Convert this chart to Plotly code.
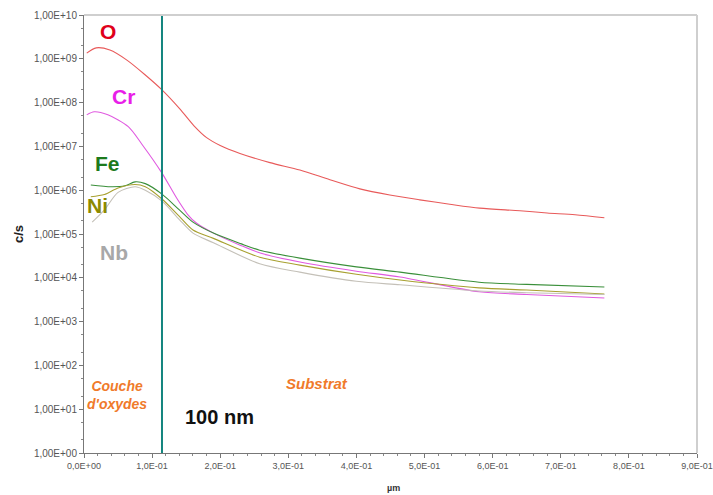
import plotly.graph_objects as go

# depth (µm) and log10(c/s)
o_x = [0.004, 0.018, 0.038, 0.063, 0.09, 0.1145, 0.141, 0.1615, 0.18, 0.20, 0.229, 0.273, 0.317, 0.361, 0.405, 0.449, 0.493, 0.537, 0.581, 0.640, 0.680, 0.721, 0.764]
o_y = [9.13, 9.25, 9.20, 8.97, 8.63, 8.29, 7.85, 7.47, 7.20, 7.02, 6.84, 6.63, 6.46, 6.24, 6.03, 5.89, 5.78, 5.68, 5.59, 5.53, 5.48, 5.44, 5.37]

cr_x = [0.004, 0.015, 0.035, 0.065, 0.085, 0.1145, 0.136, 0.152, 0.165, 0.19, 0.23, 0.26, 0.317, 0.40, 0.464, 0.58, 0.65, 0.764]
cr_y = [7.72, 7.79, 7.72, 7.45, 7.05, 6.39, 5.82, 5.45, 5.25, 5.02, 4.74, 4.56, 4.36, 4.15, 4.02, 3.68, 3.62, 3.54]

fe_x = [0.01, 0.04, 0.06, 0.075, 0.09, 0.1145, 0.14, 0.16, 0.19, 0.23, 0.258, 0.317, 0.40, 0.464, 0.58, 0.65, 0.764]
fe_y = [6.12, 6.08, 6.10, 6.19, 6.15, 5.91, 5.55, 5.27, 5.02, 4.78, 4.63, 4.45, 4.25, 4.13, 3.90, 3.85, 3.79]

ni_x = [0.01, 0.03, 0.05, 0.075, 0.09, 0.1145, 0.14, 0.16, 0.19, 0.258, 0.317, 0.40, 0.464, 0.58, 0.65, 0.764]
ni_y = [5.85, 5.90, 6.05, 6.13, 6.08, 5.80, 5.40, 5.09, 4.90, 4.47, 4.29, 4.08, 3.95, 3.77, 3.72, 3.63]

nb_x = [0.012, 0.03, 0.05, 0.075, 0.09, 0.1145, 0.14, 0.16, 0.19, 0.258, 0.317, 0.40, 0.464, 0.58, 0.65, 0.764]
nb_y = [5.27, 5.55, 5.95, 6.08, 6.00, 5.75, 5.33, 5.02, 4.80, 4.32, 4.13, 3.92, 3.84, 3.70, 3.66, 3.62]

interface_x = 0.1145

y_tickvals = [10 ** k for k in range(0, 11)]
y_ticktext = ["1,00E+%02d" % k for k in range(0, 11)]
x_tickvals = [i / 10 for i in range(0, 10)]
x_ticktext = ["0,0E+00"] + ["%d,0E-01" % i for i in range(1, 10)]

series = [
    ("O", o_x, o_y, "#e85a5a"),
    ("Cr", cr_x, cr_y, "#e05ae0"),
    ("Fe", fe_x, fe_y, "#3a8f3a"),
    ("Ni", ni_x, ni_y, "#a8a030"),
    ("Nb", nb_x, nb_y, "#c4c0b8"),
]

fig = go.Figure()
for name, xs, ys, col in series:
    fig.add_trace(go.Scatter(x=xs, y=[10 ** v for v in ys], mode="lines", name=name,
                             line=dict(color=col, width=1.1, shape="spline", smoothing=0.8)))

fig.add_shape(type="line", x0=interface_x, x1=interface_x, y0=0, y1=1, xref="x", yref="paper",
              line=dict(color="#14857f", width=2))

labels = [
    ("O", 108, 32, "#e0001a"),
    ("Cr", 123, 97, "#e81ee8"),
    ("Fe", 107, 163, "#1c7a1c"),
    ("Ni", 97, 205, "#8c8a00"),
    ("Nb", 114, 252, "#a8a8a8"),
]
W, H = 713, 495
L, R, T, B = 84, 16, 15, 42
pw, ph = W - L - R, H - T - B

def px(xp):
    return (xp - L) / pw

def py(yp):
    return 1 - (yp - T) / ph

def note(text, xp, yp, size, color, **kw):
    fig.add_annotation(text=text, x=px(xp), y=py(yp), xref="paper", yref="paper",
                       xanchor="center", yanchor="middle", showarrow=False,
                       font=dict(family="Liberation Sans, Arial", size=size, color=color), **kw)

for txt, xp, yp, col in labels:
    note("<b>%s</b>" % txt, xp, yp, 21, col)

note("<b><i>Couche<br>d'oxydes</i></b>", 117, 395, 14, "#f07a2a", align="center")
note("<b><i>Substrat</i></b>", 317, 383, 15, "#f07a2a")
note("<b>100 nm</b>", 219, 417, 20, "#111111")
note("<b>c/s</b>", 18, 234, 13, "#222222", textangle=-90)
note("<b>µm</b>", 393, 488, 9, "#333333")

ytickfont = dict(family="Liberation Sans, Arial", size=10, color="#555555")
xtickfont = dict(family="Liberation Sans, Arial", size=9, color="#555555")
fig.update_layout(
    width=W, height=H,
    margin=dict(l=L, r=R, t=T, b=B, autoexpand=False),
    paper_bgcolor="white", plot_bgcolor="white",
    showlegend=False,
    xaxis=dict(range=[0, 0.9], tickvals=x_tickvals, ticktext=x_ticktext, tickfont=xtickfont,
               showgrid=False, zeroline=False, showline=True, linecolor="#777777", linewidth=1,
               ticks="outside", ticklen=4, tickcolor="#777777",
               minor=dict(dtick=0.02, ticks="outside", ticklen=2, tickcolor="#888888"),
               mirror=False),
    yaxis=dict(type="log", range=[0, 10], tickvals=y_tickvals, ticktext=y_ticktext, tickfont=ytickfont,
               showgrid=False, zeroline=False, showline=True, linecolor="#777777", linewidth=1,
               ticks="outside", ticklen=4, tickcolor="#777777",
               minor=dict(ticks="outside", ticklen=2, tickcolor="#888888", showgrid=False)),
)
# light grey top and right frame
fig.add_shape(type="line", x0=0, x1=1, y0=1, y1=1, xref="paper", yref="paper",
              line=dict(color="#cfcfcf", width=2))
fig.add_shape(type="line", x0=1, x1=1, y0=0, y1=1, xref="paper", yref="paper",
              line=dict(color="#cfcfcf", width=2))

fig.write_html("out.html", config={"displayModeBar": False},
               post_script="document.body.style.margin='0';document.body.style.overflow='hidden';")
